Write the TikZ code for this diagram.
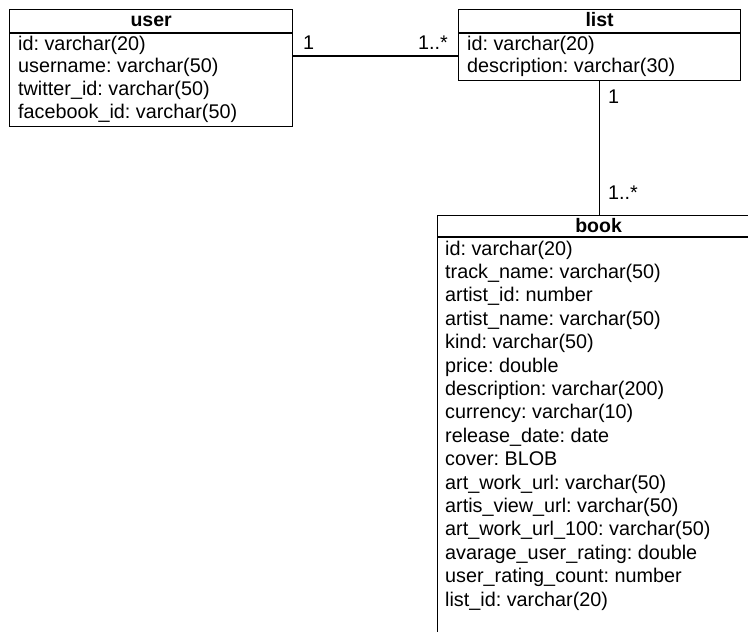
\documentclass[tikz,border=0pt]{standalone}
\usepackage{fontspec}
\setmainfont{Liberation Sans}
\frenchspacing
\begin{document}
\begin{tikzpicture}[x=1pt,y=-1pt,
  tbl/.style={draw, line width=1.2pt, anchor=north west, inner sep=0pt},
  hdr/.style={anchor=base, inner sep=0pt, font=\fontsize{19.5}{23}\selectfont\bfseries},
  fld/.style={anchor=base west, inner sep=0pt, font=\fontsize{19.8}{23}\selectfont},
  mult/.style={anchor=base west, inner sep=0pt, font=\fontsize{19.8}{23}\selectfont},
  conn/.style={line width=1.2pt}]
\useasboundingbox (0,0) rectangle (748,632);
\clip (0,0) rectangle (748,632);
\fill[white] (0,0) rectangle (748,632);

% user table
\node[tbl, minimum width=283pt, minimum height=117pt] (user) at (9,9) {};
\node[hdr] (userh) at (user.north |- 0,26) {user};
\draw[conn] (user.west |- 0,33) -- (user.east |- 0,33);
\node[fld] (u1) at (18,50) {id: varchar(20)};
\node[fld] (u2) at (18,72.7) {username: varchar(50)};
\node[fld] (u3) at (18,95.4) {twitter\_id: varchar(50)};
\node[fld] (u4) at (18,118) {facebook\_id: varchar(50)};

% list table
\node[tbl, minimum width=282pt, minimum height=71pt] (list) at (458,9) {};
\node[hdr] (listh) at (list.north |- 0,26) {list};
\draw[conn] (list.west |- 0,33) -- (list.east |- 0,33);
\node[fld] (l1) at (467,50) {id: varchar(20)};
\node[fld] (l2) at (467,72.7) {description: varchar(30)};

% book table
\node[tbl, minimum width=322pt, minimum height=450pt] (book) at (437,215) {};
\node[hdr] (bookh) at (book.north |- 0,232) {book};
\draw[conn] (book.west |- 0,237) -- (book.east |- 0,237);
\foreach \t [count=\i from 0] in {
  id: varchar(20),
  track\_name: varchar(50),
  artist\_id: number,
  artist\_name: varchar(50),
  kind: varchar(50),
  price: double,
  description: varchar(200),
  currency: varchar(10),
  release\_date: date,
  cover: BLOB,
  art\_work\_url: varchar(50),
  artis\_view\_url: varchar(50),
  art\_work\_url\_100: varchar(50),
  avarage\_user\_rating: double,
  user\_rating\_count: number,
  list\_id: varchar(20)}
  \node[fld] (b\i) at (445,255+23.4*\i) {\t};

% associations
\coordinate (ul) at (0,56);
\draw[conn] (user.east |- ul) -- (list.west |- ul);
\node[mult] (m1) at (303,49) {1};
\node[mult] (m2) at (418,49) {1..*};
\draw[conn] (list.south) -- (list.south |- book.north);
\node[mult] (m3) at (608,103) {1};
\node[mult] (m4) at (608,199) {1..*};
\end{tikzpicture}
\end{document}
